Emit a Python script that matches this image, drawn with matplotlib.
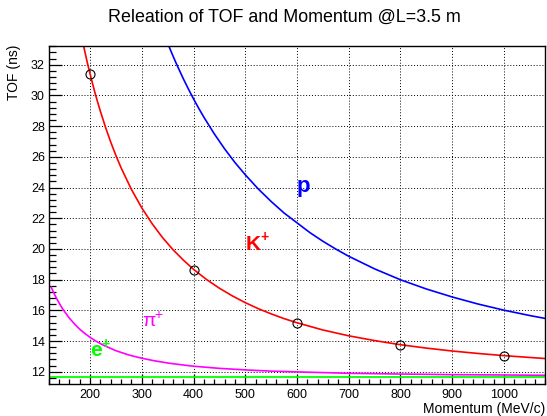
import matplotlib
matplotlib.use('Agg')
import matplotlib.pyplot as plt
from matplotlib.ticker import MultipleLocator

plt.rcParams['font.family'] = ['Liberation Sans', 'DejaVu Sans']

# TOF (ns), par particule
p_proton = [350, 355, 360, 365, 370, 380, 390, 400, 410, 420, 440, 460, 480, 500, 525, 550, 575, 600,
            625, 650, 675, 700, 750, 800, 850, 900, 950, 1000, 1050, 1080]
tof_proton = [33.40, 32.99, 32.59, 32.20, 31.83, 31.10, 30.42, 29.77, 29.16, 28.58, 27.50, 26.52, 25.63, 24.83,
              23.91, 23.09, 22.34, 21.70, 21.06, 20.50, 19.99, 19.52, 18.70, 17.99, 17.39, 16.87, 16.41, 16.01,
              15.66, 15.47]

p_kaon = [185, 190, 195, 200, 205, 210, 215, 220, 230, 240, 250, 260, 280, 300, 320, 340, 360, 380, 400,
          425, 450, 475, 500, 525, 550, 575, 600, 650, 700, 750, 800, 850, 900, 950, 1000, 1050, 1080]
tof_kaon = [33.60, 32.83, 32.09, 31.40, 30.74, 30.11, 29.52, 28.96, 27.91, 26.95, 26.08, 25.28, 23.87, 22.67,
            21.64, 20.74, 19.96, 19.28, 18.67, 18.01, 17.44, 16.94, 16.50, 16.11, 15.77, 15.46, 15.19, 14.72,
            14.34, 14.03, 13.76, 13.54, 13.35, 13.19, 13.05, 12.93, 12.86]

p_pion = [125, 130, 135, 140, 145, 150, 160, 170, 180, 190, 200, 212, 225, 250, 275, 300, 325, 350, 375,
          400, 450, 500, 550, 600, 700, 800, 900, 1000, 1080]
tof_pion = [17.50, 17.13, 16.79, 16.49, 16.20, 15.95, 15.49, 15.11, 14.77, 14.49, 14.24, 13.98, 13.74, 13.37,
            13.09, 12.88, 12.71, 12.57, 12.46, 12.36, 12.22, 12.12, 12.04, 11.99, 11.90, 11.85, 11.81, 11.79,
            11.77]

p_electron = [125, 400, 700, 1080]
tof_electron = [11.68, 11.68, 11.68, 11.68]

# points mesures (kaon)
p_points = [200, 400, 600, 800, 1000]
tof_points = [31.42, 18.64, 15.16, 13.75, 13.04]

fig = plt.figure(figsize=(5.47, 4.16), dpi=100)
ax = fig.add_axes([0.089, 0.0776, 0.908, 0.813])

ax.plot(p_electron, tof_electron, color='#00ff00', lw=1.3)
ax.plot(p_pion, tof_pion, color='#ff00ff', lw=1.2)
ax.plot(p_kaon, tof_kaon, color='#ff0000', lw=1.2)
ax.plot(p_proton, tof_proton, color='#0000ff', lw=1.2)
ax.plot(p_points, tof_points, 'o', mfc='none', mec='black', ms=6.5, mew=0.8)

ax.set_xlim(120, 1080)
ax.set_ylim(11.22, 33.25)
ax.xaxis.set_major_locator(MultipleLocator(100))
ax.xaxis.set_minor_locator(MultipleLocator(20))
ax.yaxis.set_major_locator(MultipleLocator(2))
ax.yaxis.set_minor_locator(MultipleLocator(0.4))
ax.grid(which='major', color='black', linestyle=(0, (1, 2)), linewidth=0.7)
ax.set_axisbelow(True)

ax.tick_params(which='both', direction='in', top=False, right=False, labelsize=9, width=0.9)
ax.tick_params(axis='x', which='major', length=7, pad=3.5)
ax.tick_params(axis='x', which='minor', length=3.8)
ax.tick_params(axis='y', which='major', length=9, pad=2.7)
ax.tick_params(axis='y', which='minor', length=5)
for s in ax.spines.values():
    s.set_linewidth(1.0)

# noms des particules (lettre + exposant)
ax.text(600, 23.7, 'p', color='#0000ff', fontsize=16, fontweight='bold')
ax.text(500, 19.9, 'K', color='#ff0000', fontsize=15, fontweight='bold')
ax.annotate('+', xy=(500, 19.9), xytext=(10.8, 6.5), textcoords='offset points',
            color='#ff0000', fontsize=10, fontweight='bold')
ax.text(300, 15.0, 'π', color='#ff00ff', fontsize=14)
ax.annotate('+', xy=(300, 15.0), xytext=(9.0, 4.5), textcoords='offset points',
            color='#ff00ff', fontsize=10)
ax.text(200, 13.05, 'e', color='#00ff00', fontsize=15, fontweight='bold')
ax.annotate('+', xy=(200, 13.05), xytext=(8.3, 5.5), textcoords='offset points',
            color='#00ff00', fontsize=10, fontweight='bold')

fig.text(0.520, 0.959, 'Releation of TOF and Momentum @L=3.5 m', ha='center', va='center', fontsize=12.9)
fig.text(0.026, 1 - 45 / 416, 'TOF (ns)', rotation=90, ha='center', va='top', fontsize=10)
fig.text(0.997, 0.018, 'Momentum (MeV/c)', ha='right', va='center', fontsize=10)

fig.savefig('out.png', dpi=100)
